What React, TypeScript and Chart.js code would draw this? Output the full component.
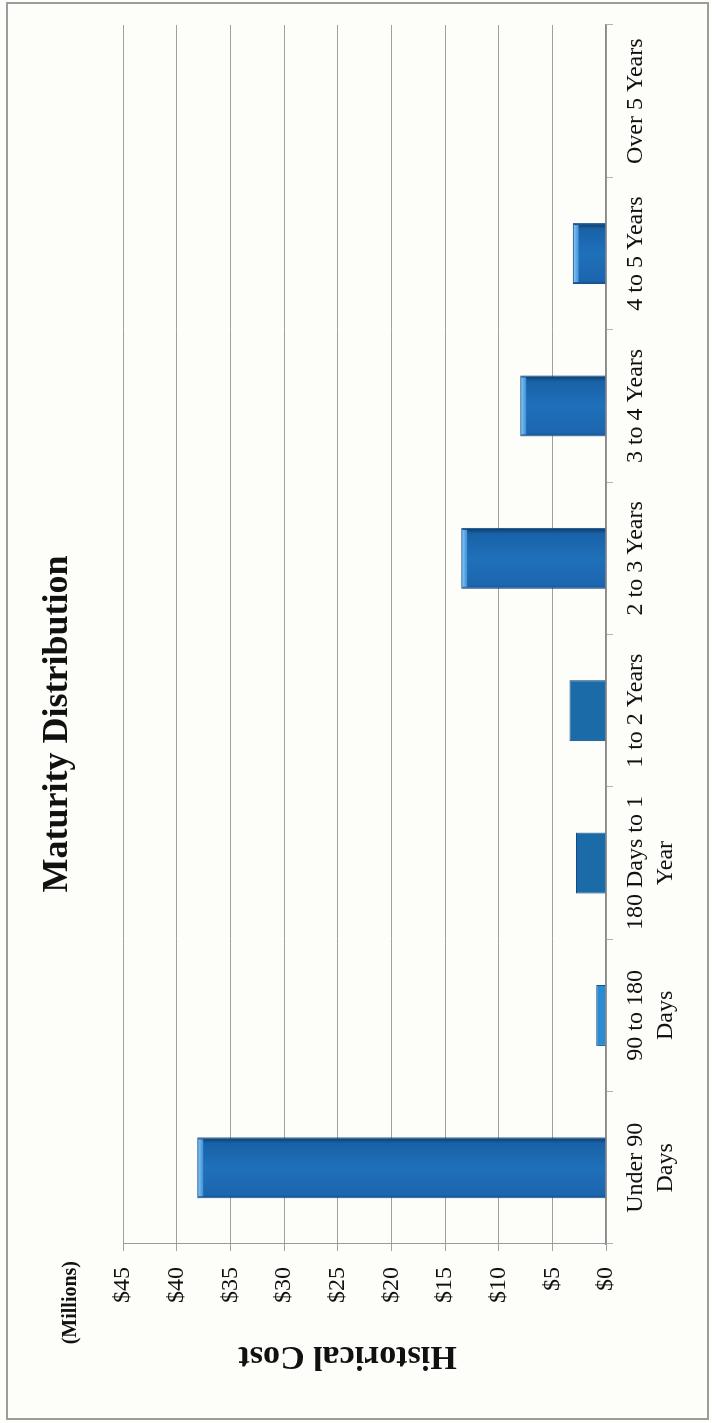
import React, { useEffect, useRef } from 'react';
import { Chart, registerables } from 'chart.js';

Chart.register(...registerables);

// ---- data ----
const maturityBuckets: (string | string[])[] = [
  ['Under 90', 'Days'],
  ['90 to 180', 'Days'],
  ['180 Days to 1', 'Year'],
  '1 to 2 Years',
  '2 to 3 Years',
  '3 to 4 Years',
  '4 to 5 Years',
  'Over 5 Years',
];
const historicalCost = [38.1, 0.9, 2.8, 3.4, 13.5, 8.0, 3.1, 0];
const costTicks = ['$0', '$5', '$10', '$15', '$20', '$25', '$30', '$35', '$40', '$45'];
const chartTitle = 'Maturity Distribution';
const valueAxisTitle = 'Historical Cost';
const unitNote = '(Millions)';

// ---- styles (not data) ----
const barFinish = ['bevel', 'light', 'flat', 'flat', 'bevel', 'bevel', 'bevel', 'bevel'];

const W = 1423;
const H = 712;
const SERIF = '"Liberation Serif", "Times New Roman", serif';
const BAR_PCT = 0.4;

function barFill(ctx: any) {
  const chart = ctx.chart;
  const xs = chart.scales && chart.scales.x;
  const finish = barFinish[ctx.dataIndex] || 'bevel';
  if (finish === 'flat') return '#1b6ba8';
  if (finish === 'light') return '#2a8bd2';
  if (!xs || ctx.type !== 'data') return '#1f6fb8';
  const cx = xs.getPixelForValue(ctx.dataIndex);
  const half = (xs.width / maturityBuckets.length) * BAR_PCT / 2;
  if (!isFinite(cx) || !isFinite(half) || half <= 0) return '#1f6fb8';
  const g = chart.ctx.createLinearGradient(cx - half, 0, cx + half, 0);
  g.addColorStop(0, '#174f8a');
  g.addColorStop(0.06, '#1c66ae');
  g.addColorStop(0.5, '#1f70ba');
  g.addColorStop(0.9, '#1962a8');
  g.addColorStop(1, '#0b3968');
  return g;
}

const framePlugin = {
  id: 'frameAndNotes',
  beforeDraw(chart: any) {
    const c = chart.ctx;
    c.save();
    c.fillStyle = '#fdfdf9';
    c.fillRect(0, 0, chart.width, chart.height);
    c.strokeStyle = '#9c9c9c';
    c.lineWidth = 2;
    c.strokeRect(4, 7, 1416, 701);
    c.restore();
  },
  afterDatasetsDraw(chart: any) {
    const c = chart.ctx;
    const meta = chart.getDatasetMeta(0);
    c.save();
    meta.data.forEach((bar: any, i: number) => {
      if (barFinish[i] !== 'bevel' || !historicalCost[i]) return;
      const p = bar.getProps(['x', 'y', 'width'], true);
      if (!isFinite(p.x) || !isFinite(p.y) || !isFinite(p.width)) return;
      const g = c.createLinearGradient(0, p.y, 0, p.y + 6);
      g.addColorStop(0, '#0f4a85');
      g.addColorStop(0.25, '#7cc0f0');
      g.addColorStop(1, '#3d8fd6');
      c.fillStyle = g;
      c.fillRect(p.x - p.width / 2 + 2, p.y + 1, p.width - 4, 5);
    });
    c.restore();
  },
  afterDraw(chart: any) {
    const c = chart.ctx;
    const ys = chart.scales.y;
    c.save();
    c.fillStyle = '#111';
    c.font = `bold 20px ${SERIF}`;
    c.textAlign = 'right';
    c.textBaseline = 'middle';
    c.fillText(unitNote, ys.right - 17, ys.top - 52);
    c.restore();
  },
};

export default function App() {
  const ref = useRef<HTMLCanvasElement | null>(null);

  useEffect(() => {
    if (!ref.current) return;
    const chart = new Chart(ref.current, {
      type: 'bar',
      data: {
        labels: maturityBuckets as any,
        datasets: [
          {
            label: valueAxisTitle,
            data: historicalCost,
            backgroundColor: barFill as any,
            borderColor: '#0f4a85',
            borderWidth: 1,
            categoryPercentage: 1,
            barPercentage: BAR_PCT,
          },
        ],
      },
      plugins: [framePlugin],
      options: {
        responsive: false,
        animation: false,
        devicePixelRatio: 1,
        layout: { padding: { left: 0, right: 25, top: 10, bottom: 20 } },
        plugins: {
          legend: { display: false },
          tooltip: { enabled: false },
          title: {
            display: true,
            text: chartTitle,
            color: '#111',
            font: { family: SERIF, size: 36, weight: 'bold' },
            padding: { top: 26, bottom: 44 },
          },
        },
        scales: {
          x: {
            ticks: {
              font: { family: SERIF, size: 24, lineHeight: 1.25 },
              color: '#111',
              padding: 8,
              maxRotation: 0,
              minRotation: 0,
              autoSkip: false,
            },
            grid: { drawOnChartArea: false, tickLength: 7, color: '#b3b3b3', offset: true },
            border: { color: '#8a8a8a', width: 1.5 },
            afterFit: (s: any) => {
              s.height = 86;
            },
          },
          y: {
            min: 0,
            max: 45,
            ticks: {
              stepSize: 5,
              callback: (_v: any, i: number) => costTicks[i],
              font: { family: SERIF, size: 24 },
              color: '#111',
              padding: 16,
            },
            grid: { color: '#a0a0a0', lineWidth: 1, tickLength: 7 },
            border: { color: '#9a9a9a', width: 1 },
            title: {
              display: true,
              text: '    ' + valueAxisTitle,
              color: '#111',
              font: { family: SERIF, size: 34, weight: 'bold' },
              padding: { top: 47, bottom: 0 },
            },
            afterFit: (s: any) => {
              s.width = 179;
            },
          },
        },
      } as any,
    });
    return () => chart.destroy();
  }, []);

  return (
    <div style={{ position: 'absolute', left: 0, top: 0, width: 712, height: 1423, overflow: 'hidden', background: '#fdfdf9' }}>
      <div
        style={{
          position: 'absolute',
          left: 0,
          top: 0,
          width: W,
          height: H,
          transformOrigin: '0 0',
          transform: `translate(0px, ${W}px) rotate(-90deg)`,
        }}
      >
        <canvas ref={ref} width={W} height={H} style={{ display: 'block', width: W, height: H }} />
      </div>
    </div>
  );
}
